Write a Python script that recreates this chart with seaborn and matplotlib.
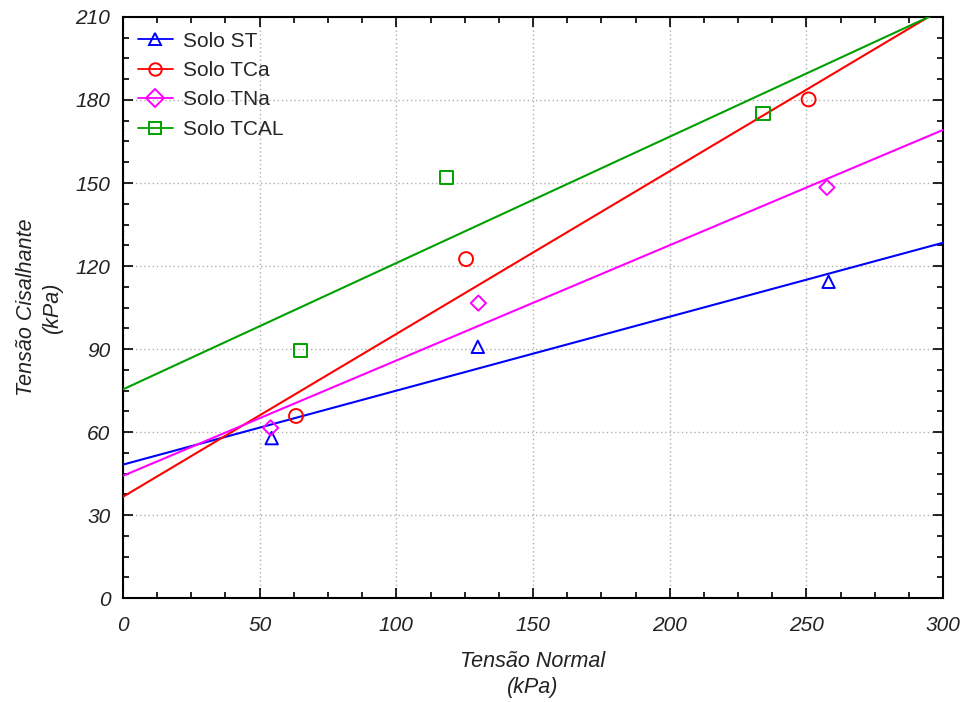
import matplotlib
matplotlib.use("Agg")
import matplotlib.pyplot as plt
from matplotlib.ticker import AutoMinorLocator
from matplotlib.lines import Line2D
import seaborn as sns
import pandas as pd

# ---- data ----
series_names = ["Solo ST", "Solo TCa", "Solo TNa", "Solo TCAL"]
st_x = [54.4, 129.8, 258.1]
st_y = [57.8, 90.8, 114.3]
tca_x = [63.3, 125.5, 250.8]
tca_y = [65.8, 122.5, 180.2]
tna_x = [54.0, 130.0, 257.5]
tna_y = [61.5, 106.6, 148.4]
tcal_x = [65.0, 118.2, 234.1]
tcal_y = [89.6, 152.0, 175.2]
x_ticks = [0, 50, 100, 150, 200, 250, 300]
y_ticks = [0, 30, 60, 90, 120, 150, 180, 210]

colors = ["#0000ff", "#ff0000", "#ff00ff", "#00a000"]
markers = ["^", "o", "D", "s"]
marker_sizes = [80, 100, 60, 90]

sns.set_style("ticks")
plt.rcParams["font.family"] = ["Liberation Sans", "DejaVu Sans"]

fig = plt.figure(figsize=(9.66, 7.02), dpi=100)
ax = fig.add_axes([0.1273, 0.1481, 0.849, 0.8277])
ax.set_xlim(0, 300)
ax.set_ylim(0, 210)

xs = [st_x, tca_x, tna_x, tcal_x]
ys = [st_y, tca_y, tna_y, tcal_y]
for name, x, y, c, m, s in zip(series_names, xs, ys, colors, markers, marker_sizes):
    df = pd.DataFrame({"x": x, "y": y})
    sns.regplot(data=df, x="x", y="y", ax=ax, ci=None, truncate=False,
                marker=m, color=c,
                scatter_kws={"facecolors": "none", "s": s, "linewidths": 1.4, "alpha": 1, "zorder": 4},
                line_kws={"linewidth": 1.5, "zorder": 3})

ax.set_xlim(0, 300)
ax.set_ylim(0, 210)
ax.set_xticks(x_ticks)
ax.set_yticks(y_ticks)
ax.xaxis.set_minor_locator(AutoMinorLocator(4))
ax.yaxis.set_minor_locator(AutoMinorLocator(4))
ax.tick_params(which="both", direction="in", top=True, right=True, color="black")
ax.tick_params(which="major", length=7, width=1.2, labelsize=15)
ax.tick_params(which="minor", length=4, width=1.2)
ax.tick_params(axis="x", which="major", pad=13)
ax.tick_params(axis="y", which="major", pad=9)
for lab in ax.get_xticklabels() + ax.get_yticklabels():
    lab.set_fontstyle("italic")
    lab.set_color("#222222")

ax.grid(True, which="major", linestyle=(0, (1, 2)), color="#b0b0b0", linewidth=1)
for sp in ax.spines.values():
    sp.set_color("black")
    sp.set_linewidth(1.5)

ax.set_xlabel("Tensão Normal\n(kPa)", fontsize=15.5, fontstyle="italic",
              color="#222222", linespacing=1.3)
ax.set_ylabel("Tensão Cisalhante\n(kPa)", fontsize=15.5, fontstyle="italic",
              color="#222222", linespacing=1.3)
ax.xaxis.set_label_coords(0.5, -0.092)
ax.yaxis.set_label_coords(-0.073, 0.5)

handles = [Line2D([0], [0], color=c, marker=m, markerfacecolor="none", markeredgecolor=c,
                  markersize=9, linewidth=1.3, markeredgewidth=1.4)
           for c, m in zip(colors, markers)]
leg = ax.legend(handles, series_names, loc="upper left", frameon=False, fontsize=15,
                handlelength=1.7, handletextpad=0.5, labelspacing=0.5,
                bbox_to_anchor=(0.0, 1.0), borderaxespad=0.3)

fig.savefig("out.png", dpi=100)
